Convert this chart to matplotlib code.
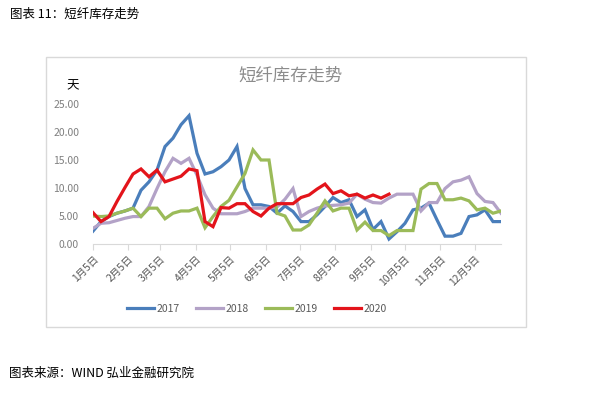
import numpy as np
import matplotlib
matplotlib.use("Agg")
import matplotlib.pyplot as plt
from matplotlib.patches import Rectangle

plt.rcParams['font.family'] = ['Noto Sans CJK SC', 'DejaVu Sans']

# weekly short-fibre inventory (days), week 0 = Jan 5
y2017 = [2.3, 4.0, 4.9, 5.5, 5.9, 6.4, 9.6, 11.1, 13.2, 17.4, 18.9, 21.3, 22.9,
         16.2, 12.5, 12.9, 13.8, 15.0, 17.4, 9.9, 7.0, 7.0, 6.7, 5.5, 6.8, 5.8,
         4.0, 4.0, 5.2, 6.7, 8.3, 7.4, 7.9, 4.9, 6.1, 2.6, 4.0, 0.9, 2.2, 3.7,
         6.1, 6.4, 7.3, 4.3, 1.4, 1.4, 1.9, 4.9, 5.2, 6.1, 4.0, 4.0]
y2018 = [2.8, 3.7, 3.8, 4.2, 4.6, 4.9, 4.9, 6.7, 9.9, 12.9, 15.3, 14.4, 15.3,
         12.3, 8.8, 6.4, 5.4, 5.4, 5.4, 5.8, 6.4, 6.4, 6.4, 6.6, 8.0, 9.9, 4.9,
         5.8, 6.4, 6.8, 6.9, 7.0, 7.3, 8.9, 8.0, 7.4, 7.3, 8.2, 8.9, 8.9, 8.9,
         5.9, 7.4, 7.4, 9.9, 11.1, 11.4, 12.0, 9.0, 7.6, 7.4, 5.5]
y2019 = [5.0, 4.9, 5.0, 5.5, 5.9, 6.4, 4.9, 6.4, 6.4, 4.5, 5.5, 5.9, 5.9, 6.4,
         2.9, 4.9, 6.7, 7.8, 10.2, 12.6, 16.8, 15.0, 15.0, 5.5, 5.0, 2.5, 2.5,
         3.4, 5.5, 7.7, 5.9, 6.4, 6.4, 2.5, 3.9, 2.4, 2.4, 1.5, 2.4, 2.4, 2.4,
         9.8, 10.8, 10.8, 7.9, 7.9, 8.2, 7.7, 6.1, 6.4, 5.5, 5.9]
y2020 = [5.6, 4.0, 4.9, 7.6, 10.1, 12.5, 13.4, 12.0, 13.2, 11.1, 11.6, 12.1,
         13.4, 13.1, 4.0, 3.1, 6.5, 6.4, 7.2, 7.2, 5.8, 5.0, 6.4, 7.2, 7.2, 7.2,
         8.3, 8.75, 9.8, 10.7, 9.0, 9.5, 8.6, 8.9, 8.2, 8.75, 8.2, 8.9]

month_labels = ['1月5日', '2月5日', '3月5日', '4月5日', '5月5日', '6月5日',
                '7月5日', '8月5日', '9月5日', '10月5日', '11月5日', '12月5日']
month_days = [0, 31, 59, 90, 120, 151, 181, 212, 243, 273, 304, 334]

series = [('2017', y2017, '#4A7EBB'), ('2018', y2018, '#B3A2C7'),
          ('2019', y2019, '#9BBB59'), ('2020', y2020, '#E3141B')]

fig = plt.figure(figsize=(5.91, 3.94), dpi=100)
fig.patch.set_facecolor('white')

# chart frame
fig.patches.append(Rectangle((46 / 591, 1 - 327 / 394), (526 - 46) / 591, (327 - 57) / 394,
                             transform=fig.transFigure, fill=False,
                             edgecolor='#D9D9D9', linewidth=1.0))

ax = fig.add_axes([93 / 591, 1 - 244 / 394, (501 - 93) / 591, (244 - 104) / 394])
for name, vals, col in series:
    ax.plot(np.arange(len(vals)), vals, color=col, linewidth=2.3, label=name,
            solid_joinstyle='miter')

ax.set_xlim(0, 51)
ax.set_ylim(0, 25)
ax.set_yticks(np.arange(0, 26, 5))
ax.set_yticklabels(['%.2f' % v for v in np.arange(0, 26, 5)])
ax.set_xticks(np.array(month_days) / 7.0)
ax.set_xticklabels(month_labels, rotation=45, ha='right', rotation_mode='anchor')

for s in ['top', 'right', 'left']:
    ax.spines[s].set_visible(False)
ax.spines['bottom'].set_color('#D9D9D9')
ax.tick_params(axis='y', length=0, labelsize=7.5, colors='#7F7F7F', pad=10)
ax.tick_params(axis='x', length=4, color='#D9D9D9', labelsize=7.5,
               labelcolor='#595959', pad=3)

ax.legend(loc='center', bbox_to_anchor=(257 / 591, 1 - 309 / 394),
          bbox_transform=fig.transFigure, ncol=4, frameon=False,
          fontsize=7.5, handlelength=2.6, handletextpad=0.2, columnspacing=1.6,
          labelcolor='#595959')

fig.text(290 / 591, 1 - 76 / 394, '短纤库存走势', ha='center', va='center',
         fontsize=12.5, color='#8C8C8C')
fig.text(73 / 591, 1 - 86 / 394, '天', ha='center', va='center',
         fontsize=9, color='black')
fig.text(10 / 591, 1 - 14 / 394, '图表 11：短纤库存走势', ha='left', va='center',
         fontsize=9, color='black')
fig.text(9 / 591, 1 - 373 / 394, '图表来源：WIND 弘业金融研究院', ha='left',
         va='center', fontsize=9, color='black')

fig.savefig('out.png', dpi=100, facecolor='white')
